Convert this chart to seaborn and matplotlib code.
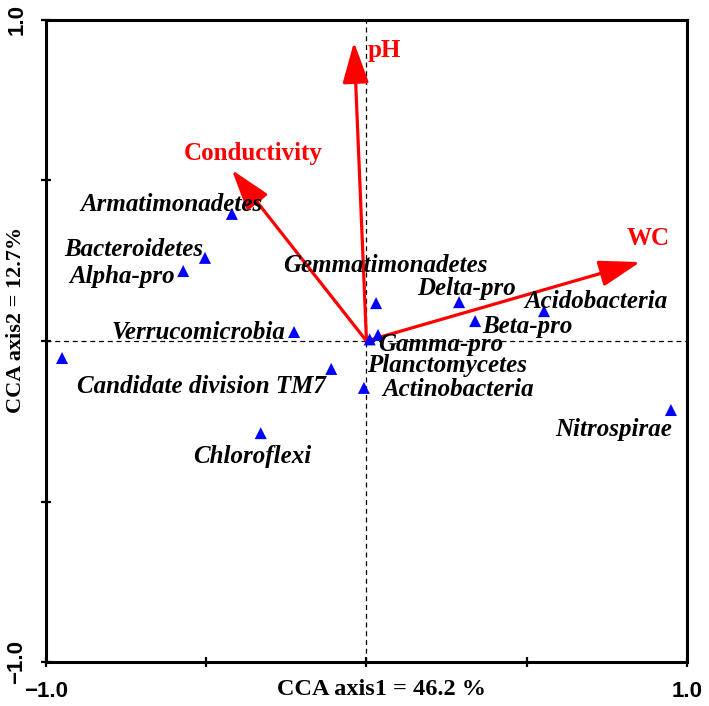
import matplotlib
matplotlib.use("Agg")
import matplotlib.pyplot as plt
import seaborn as sns
import pandas as pd
import numpy as np

sns.set_style("ticks")
plt.rcParams['font.family'] = ['Liberation Serif', 'DejaVu Serif']
plt.rcParams['text.color'] = 'black'
plt.rcParams['axes.labelcolor'] = 'black'
plt.rcParams['xtick.color'] = 'black'
plt.rcParams['ytick.color'] = 'black'
plt.rcParams['axes.edgecolor'] = 'black'

# species scores (CCA axis1, axis2)
taxa = ["Armatimonadetes", "Bacteroidetes", "Alpha-pro", "Verrucomicrobia", "",
        "Candidate division TM7", "Chloroflexi", "Gemmatimonadetes", "Gamma-pro",
        "Planctomycetes", "Delta-pro", "Beta-pro", "Acidobacteria",
        "Actinobacteria", "Nitrospirae"]
axis1 = [-0.42, -0.504, -0.572, -0.226, -0.95, -0.11, -0.33, 0.03, 0.036,
         0.01, 0.289, 0.339, 0.554, -0.008, 0.95]
axis2 = [0.396, 0.259, 0.218, 0.028, -0.053, -0.087, -0.287, 0.118, 0.019,
         0.005, 0.121, 0.062, 0.093, -0.146, -0.215]

# environmental vectors
env = ["pH", "Conductivity", "WC"]
env1 = [-0.039, -0.42, 0.854]
env2 = [0.931, 0.533, 0.246]

# label placement (offset in points, horizontal alignment)
lab_off = [(22, 6.5, "right"), (-1, 6, "right"), (-6, -4, "right"), (-6.5, 0, "right"),
           (0, 0, "left"), (-4, -13, "right"), (-6, -17, "center"), (7, 27, "center"),
           (0, -7, "left"), (56, -18.5, "center"), (-30, 10, "left"), (5, -4, "left"),
           (-14, 7, "left"), (13, -1, "left"), (-41, -14, "center")]
env_off = [(22, -6, "center"), (15, 12, "center"), (6, 17, "center")]

df = pd.DataFrame({"taxon": taxa, "axis1": axis1, "axis2": axis2})

fig = plt.figure(figsize=(7.09, 7.06), dpi=100)
ax = fig.add_axes([0.0649, 0.0623, 0.904, 0.9094])

ax.axhline(0, color="black", ls=(0, (4, 3)), lw=0.9, zorder=1)
ax.axvline(0, color="black", ls=(0, (4, 3)), lw=0.9, zorder=1)

sns.scatterplot(data=df, x="axis1", y="axis2", marker="^", color="#0000ff",
                s=75, edgecolor="none", ax=ax, zorder=3)

for t, x, y, (dx, dy, ha) in zip(taxa, axis1, axis2, lab_off):
    if t:
        ax.annotate(t, (x, y), xytext=(dx, dy), textcoords="offset points",
                    ha=ha, va="center", fontsize=18, fontweight="bold",
                    fontstyle="italic", color="black", zorder=4)

for e, x, y, (dx, dy, ha) in zip(env, env1, env2, env_off):
    ax.annotate("", xy=(x, y), xytext=(0, 0),
                arrowprops=dict(arrowstyle="-|>,head_length=1.4,head_width=0.45",
                                color="#ff0000", lw=2.3, mutation_scale=18,
                                shrinkA=0, shrinkB=0), zorder=2)
    ax.annotate(e, (x, y), xytext=(dx, dy), textcoords="offset points",
                ha=ha, va="center", fontsize=18, fontweight="bold", color="#ff0000")

ax.set_xlim(-1, 1)
ax.set_ylim(-1, 1)
ax.set_xticks([-1, -0.5, 0, 0.5, 1])
ax.set_xticklabels(["\u22121.0", "", "", "", "1.0"])
ax.set_yticks([-1, -0.5, 0, 0.5, 1])
ax.set_yticklabels(["\u22121.0", "", "", "", "1.0"], rotation=90, va="center")
for lab in ax.get_xticklabels() + ax.get_yticklabels():
    lab.set_fontfamily("Liberation Sans")
    lab.set_fontweight("bold")
    lab.set_fontsize(16)
ax.tick_params(direction="inout", length=7, width=1.6)
ax.tick_params(axis="x", pad=10)
ax.tick_params(axis="y", pad=10)
for sp in ax.spines.values():
    sp.set_linewidth(2.2)
    sp.set_visible(True)

ax.set_xlabel("CCA axis1 = 46.2 %", fontsize=17.5, fontweight="bold")
ax.set_ylabel("CCA axis2 = 12.7%", fontsize=16, fontweight="bold")
ax.xaxis.set_label_coords(0.523, -0.026)
ax.yaxis.set_label_coords(-0.032, 0.533)

fig.savefig("out.png", dpi=100)
